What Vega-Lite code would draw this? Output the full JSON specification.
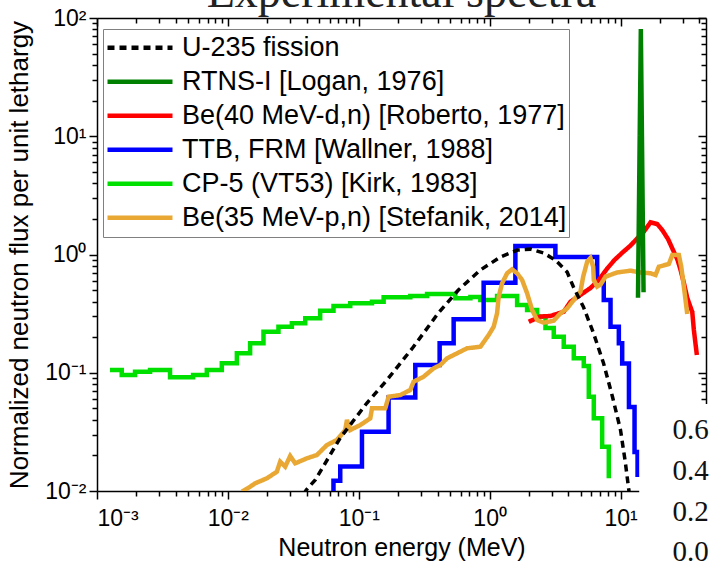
{
  "$schema": "https://vega.github.io/schema/vega-lite/v6.json",
  "width": 609,
  "height": 473,
  "autosize": {"type": "none"},
  "padding": {"left": 97, "top": 18, "right": 4, "bottom": 75},
  "background": "white",
  "title": {"text": "Experimental spectra", "font": "Liberation Serif", "fontSize": 46, "fontWeight": "normal", "color": "#222222", "anchor": "middle", "frame": "group", "baseline": "alphabetic", "offset": -46},
  "config": {
    "view": {"stroke": null},
    "axis": {"grid": false, "domainColor": "black", "tickColor": "black", "labelColor": "black", "titleColor": "black", "labelFont": "Liberation Sans", "titleFont": "Liberation Sans", "labelFontSize": 23, "titleFontSize": 25, "titleFontWeight": "normal", "domainWidth": 1.5, "tickWidth": 1.5},
    "legend": {"orient": "none", "legendX": 6, "legendY": 11, "strokeColor": "#808080", "strokeWidth": 1, "fillColor": "white", "padding": 2, "labelFont": "Liberation Sans", "labelFontSize": 27, "labelColor": "black", "labelLimit": 600, "symbolType": "stroke", "symbolSize": 4225, "symbolStrokeWidth": 4.5, "clipHeight": 33.6, "rowPadding": 0, "labelOffset": 7, "symbolOffset": 0}
  },
  "datasets": {
    "spectra": [
      {"series": "U-235 fission", "E": 0.038, "F": 0.0094},
      {"series": "U-235 fission", "E": 0.0397, "F": 0.0102},
      {"series": "U-235 fission", "E": 0.0465, "F": 0.0124},
      {"series": "U-235 fission", "E": 0.0722, "F": 0.0281},
      {"series": "U-235 fission", "E": 0.1155, "F": 0.0555},
      {"series": "U-235 fission", "E": 0.1644, "F": 0.0869},
      {"series": "U-235 fission", "E": 0.261, "F": 0.165},
      {"series": "U-235 fission", "E": 0.4055, "F": 0.32},
      {"series": "U-235 fission", "E": 0.577, "F": 0.501},
      {"series": "U-235 fission", "E": 0.849, "F": 0.739},
      {"series": "U-235 fission", "E": 1.21, "F": 0.953},
      {"series": "U-235 fission", "E": 1.63, "F": 1.09},
      {"series": "U-235 fission", "E": 2.05, "F": 1.11},
      {"series": "U-235 fission", "E": 2.58, "F": 1.03},
      {"series": "U-235 fission", "E": 3.18, "F": 0.898},
      {"series": "U-235 fission", "E": 3.91, "F": 0.711},
      {"series": "U-235 fission", "E": 4.37, "F": 0.531},
      {"series": "U-235 fission", "E": 5.21, "F": 0.36},
      {"series": "U-235 fission", "E": 6.21, "F": 0.217},
      {"series": "U-235 fission", "E": 7.41, "F": 0.121},
      {"series": "U-235 fission", "E": 8.69, "F": 0.0624},
      {"series": "U-235 fission", "E": 10.0, "F": 0.0328},
      {"series": "U-235 fission", "E": 10.9, "F": 0.0173},
      {"series": "U-235 fission", "E": 11.57, "F": 0.0102},
      {"series": "U-235 fission", "E": 11.75, "F": 0.0094},

      {"series": "RTNS-I [Logan, 1976]", "E": 13.6, "F": 0.43},
      {"series": "RTNS-I [Logan, 1976]", "E": 14.3, "F": 80.7},
      {"series": "RTNS-I [Logan, 1976]", "E": 15.0, "F": 0.48},

      {"series": "Be(40 MeV-d,n) [Roberto, 1977]", "E": 1.99, "F": 0.27},
      {"series": "Be(40 MeV-d,n) [Roberto, 1977]", "E": 2.44, "F": 0.299},
      {"series": "Be(40 MeV-d,n) [Roberto, 1977]", "E": 2.91, "F": 0.302},
      {"series": "Be(40 MeV-d,n) [Roberto, 1977]", "E": 3.68, "F": 0.328},
      {"series": "Be(40 MeV-d,n) [Roberto, 1977]", "E": 4.15, "F": 0.399},
      {"series": "Be(40 MeV-d,n) [Roberto, 1977]", "E": 4.94, "F": 0.455},
      {"series": "Be(40 MeV-d,n) [Roberto, 1977]", "E": 5.9, "F": 0.521},
      {"series": "Be(40 MeV-d,n) [Roberto, 1977]", "E": 6.82, "F": 0.609},
      {"series": "Be(40 MeV-d,n) [Roberto, 1977]", "E": 7.91, "F": 0.761},
      {"series": "Be(40 MeV-d,n) [Roberto, 1977]", "E": 9.0, "F": 0.899},
      {"series": "Be(40 MeV-d,n) [Roberto, 1977]", "E": 10.36, "F": 1.04},
      {"series": "Be(40 MeV-d,n) [Roberto, 1977]", "E": 11.93, "F": 1.19},
      {"series": "Be(40 MeV-d,n) [Roberto, 1977]", "E": 13.42, "F": 1.37},
      {"series": "Be(40 MeV-d,n) [Roberto, 1977]", "E": 15.07, "F": 1.56},
      {"series": "Be(40 MeV-d,n) [Roberto, 1977]", "E": 16.96, "F": 1.87},
      {"series": "Be(40 MeV-d,n) [Roberto, 1977]", "E": 19.08, "F": 1.81},
      {"series": "Be(40 MeV-d,n) [Roberto, 1977]", "E": 20.84, "F": 1.61},
      {"series": "Be(40 MeV-d,n) [Roberto, 1977]", "E": 23.08, "F": 1.35},
      {"series": "Be(40 MeV-d,n) [Roberto, 1977]", "E": 25.2, "F": 1.09},
      {"series": "Be(40 MeV-d,n) [Roberto, 1977]", "E": 27.29, "F": 0.899},
      {"series": "Be(40 MeV-d,n) [Roberto, 1977]", "E": 28.77, "F": 0.74},
      {"series": "Be(40 MeV-d,n) [Roberto, 1977]", "E": 30.49, "F": 0.574},
      {"series": "Be(40 MeV-d,n) [Roberto, 1977]", "E": 32.36, "F": 0.429},
      {"series": "Be(40 MeV-d,n) [Roberto, 1977]", "E": 35.34, "F": 0.326},
      {"series": "Be(40 MeV-d,n) [Roberto, 1977]", "E": 36.35, "F": 0.23},
      {"series": "Be(40 MeV-d,n) [Roberto, 1977]", "E": 38.32, "F": 0.141},

      {"series": "TTB, FRM [Wallner, 1988]", "E": 0.0508, "F": 0.0084},
      {"series": "TTB, FRM [Wallner, 1988]", "E": 0.0641, "F": 0.0122},
      {"series": "TTB, FRM [Wallner, 1988]", "E": 0.0722, "F": 0.0161},
      {"series": "TTB, FRM [Wallner, 1988]", "E": 0.1058, "F": 0.0317},
      {"series": "TTB, FRM [Wallner, 1988]", "E": 0.169, "F": 0.0619},
      {"series": "TTB, FRM [Wallner, 1988]", "E": 0.2704, "F": 0.1164},
      {"series": "TTB, FRM [Wallner, 1988]", "E": 0.415, "F": 0.1774},
      {"series": "TTB, FRM [Wallner, 1988]", "E": 0.531, "F": 0.283},
      {"series": "TTB, FRM [Wallner, 1988]", "E": 0.9, "F": 0.578},
      {"series": "TTB, FRM [Wallner, 1988]", "E": 1.573, "F": 1.18},
      {"series": "TTB, FRM [Wallner, 1988]", "E": 3.18, "F": 0.953},
      {"series": "TTB, FRM [Wallner, 1988]", "E": 6.63, "F": 0.629},
      {"series": "TTB, FRM [Wallner, 1988]", "E": 7.45, "F": 0.413},
      {"series": "TTB, FRM [Wallner, 1988]", "E": 8.39, "F": 0.245},
      {"series": "TTB, FRM [Wallner, 1988]", "E": 9.71, "F": 0.1774},
      {"series": "TTB, FRM [Wallner, 1988]", "E": 10.3, "F": 0.12},
      {"series": "TTB, FRM [Wallner, 1988]", "E": 11.6, "F": 0.0513},
      {"series": "TTB, FRM [Wallner, 1988]", "E": 12.8, "F": 0.0214},
      {"series": "TTB, FRM [Wallner, 1988]", "E": 13.5, "F": 0.0137},
      {"series": "TTB, FRM [Wallner, 1988]", "E": 15.5, "F": 0.0137},

      {"series": "CP-5 (VT53) [Kirk, 1983]", "E": 0.001257, "F": 0.1055},
      {"series": "CP-5 (VT53) [Kirk, 1983]", "E": 0.001545, "F": 0.0957},
      {"series": "CP-5 (VT53) [Kirk, 1983]", "E": 0.001953, "F": 0.1021},
      {"series": "CP-5 (VT53) [Kirk, 1983]", "E": 0.002543, "F": 0.1055},
      {"series": "CP-5 (VT53) [Kirk, 1983]", "E": 0.003615, "F": 0.0915},
      {"series": "CP-5 (VT53) [Kirk, 1983]", "E": 0.005423, "F": 0.0957},
      {"series": "CP-5 (VT53) [Kirk, 1983]", "E": 0.006902, "F": 0.1055},
      {"series": "CP-5 (VT53) [Kirk, 1983]", "E": 0.008989, "F": 0.1202},
      {"series": "CP-5 (VT53) [Kirk, 1983]", "E": 0.01171, "F": 0.146},
      {"series": "CP-5 (VT53) [Kirk, 1983]", "E": 0.01479, "F": 0.1774},
      {"series": "CP-5 (VT53) [Kirk, 1983]", "E": 0.01871, "F": 0.2223},
      {"series": "CP-5 (VT53) [Kirk, 1983]", "E": 0.02435, "F": 0.2451},
      {"series": "CP-5 (VT53) [Kirk, 1983]", "E": 0.03083, "F": 0.2619},
      {"series": "CP-5 (VT53) [Kirk, 1983]", "E": 0.039, "F": 0.2886},
      {"series": "CP-5 (VT53) [Kirk, 1983]", "E": 0.05074, "F": 0.3347},
      {"series": "CP-5 (VT53) [Kirk, 1983]", "E": 0.06412, "F": 0.3668},
      {"series": "CP-5 (VT53) [Kirk, 1983]", "E": 0.0861, "F": 0.3866},
      {"series": "CP-5 (VT53) [Kirk, 1983]", "E": 0.1262, "F": 0.399},
      {"series": "CP-5 (VT53) [Kirk, 1983]", "E": 0.1549, "F": 0.4345},
      {"series": "CP-5 (VT53) [Kirk, 1983]", "E": 0.2477, "F": 0.4457},
      {"series": "CP-5 (VT53) [Kirk, 1983]", "E": 0.3327, "F": 0.4634},
      {"series": "CP-5 (VT53) [Kirk, 1983]", "E": 0.547, "F": 0.4262},
      {"series": "CP-5 (VT53) [Kirk, 1983]", "E": 0.713, "F": 0.4372},
      {"series": "CP-5 (VT53) [Kirk, 1983]", "E": 0.849, "F": 0.4125},
      {"series": "CP-5 (VT53) [Kirk, 1983]", "E": 1.14, "F": 0.4457},
      {"series": "CP-5 (VT53) [Kirk, 1983]", "E": 1.622, "F": 0.374},
      {"series": "CP-5 (VT53) [Kirk, 1983]", "E": 1.933, "F": 0.3394},
      {"series": "CP-5 (VT53) [Kirk, 1983]", "E": 2.306, "F": 0.2978},
      {"series": "CP-5 (VT53) [Kirk, 1983]", "E": 2.67, "F": 0.2389},
      {"series": "CP-5 (VT53) [Kirk, 1983]", "E": 3.09, "F": 0.2018},
      {"series": "CP-5 (VT53) [Kirk, 1983]", "E": 3.683, "F": 0.166},
      {"series": "CP-5 (VT53) [Kirk, 1983]", "E": 4.395, "F": 0.1324},
      {"series": "CP-5 (VT53) [Kirk, 1983]", "E": 5.239, "F": 0.114},
      {"series": "CP-5 (VT53) [Kirk, 1983]", "E": 5.723, "F": 0.0627},
      {"series": "CP-5 (VT53) [Kirk, 1983]", "E": 6.25, "F": 0.0412},
      {"series": "CP-5 (VT53) [Kirk, 1983]", "E": 7.244, "F": 0.0237},
      {"series": "CP-5 (VT53) [Kirk, 1983]", "E": 8.137, "F": 0.0128},

      {"series": "Be(35 MeV-p,n) [Stefanik, 2014]", "E": 0.01279, "F": 0.00986},
      {"series": "Be(35 MeV-p,n) [Stefanik, 2014]", "E": 0.01479, "F": 0.01087},
      {"series": "Be(35 MeV-p,n) [Stefanik, 2014]", "E": 0.01616, "F": 0.01161},
      {"series": "Be(35 MeV-p,n) [Stefanik, 2014]", "E": 0.01986, "F": 0.0128},
      {"series": "Be(35 MeV-p,n) [Stefanik, 2014]", "E": 0.02367, "F": 0.01456},
      {"series": "Be(35 MeV-p,n) [Stefanik, 2014]", "E": 0.0251, "F": 0.0177},
      {"series": "Be(35 MeV-p,n) [Stefanik, 2014]", "E": 0.02741, "F": 0.01605},
      {"series": "Be(35 MeV-p,n) [Stefanik, 2014]", "E": 0.02993, "F": 0.01977},
      {"series": "Be(35 MeV-p,n) [Stefanik, 2014]", "E": 0.03267, "F": 0.01714},
      {"series": "Be(35 MeV-p,n) [Stefanik, 2014]", "E": 0.04018, "F": 0.0189},
      {"series": "Be(35 MeV-p,n) [Stefanik, 2014]", "E": 0.04789, "F": 0.02015},
      {"series": "Be(35 MeV-p,n) [Stefanik, 2014]", "E": 0.05712, "F": 0.02449},
      {"series": "Be(35 MeV-p,n) [Stefanik, 2014]", "E": 0.06812, "F": 0.027},
      {"series": "Be(35 MeV-p,n) [Stefanik, 2014]", "E": 0.07883, "F": 0.0328},
      {"series": "Be(35 MeV-p,n) [Stefanik, 2014]", "E": 0.08122, "F": 0.0399},
      {"series": "Be(35 MeV-p,n) [Stefanik, 2014]", "E": 0.0861, "F": 0.0328},
      {"series": "Be(35 MeV-p,n) [Stefanik, 2014]", "E": 0.1027, "F": 0.0361},
      {"series": "Be(35 MeV-p,n) [Stefanik, 2014]", "E": 0.1225, "F": 0.0412},
      {"series": "Be(35 MeV-p,n) [Stefanik, 2014]", "E": 0.1262, "F": 0.05},
      {"series": "Be(35 MeV-p,n) [Stefanik, 2014]", "E": 0.1595, "F": 0.05},
      {"series": "Be(35 MeV-p,n) [Stefanik, 2014]", "E": 0.169, "F": 0.0627},
      {"series": "Be(35 MeV-p,n) [Stefanik, 2014]", "E": 0.2077, "F": 0.0648},
      {"series": "Be(35 MeV-p,n) [Stefanik, 2014]", "E": 0.2476, "F": 0.0715},
      {"series": "Be(35 MeV-p,n) [Stefanik, 2014]", "E": 0.2625, "F": 0.084},
      {"series": "Be(35 MeV-p,n) [Stefanik, 2014]", "E": 0.3131, "F": 0.0926},
      {"series": "Be(35 MeV-p,n) [Stefanik, 2014]", "E": 0.3733, "F": 0.109},
      {"series": "Be(35 MeV-p,n) [Stefanik, 2014]", "E": 0.4201, "F": 0.1164},
      {"series": "Be(35 MeV-p,n) [Stefanik, 2014]", "E": 0.4726, "F": 0.1324},
      {"series": "Be(35 MeV-p,n) [Stefanik, 2014]", "E": 0.6723, "F": 0.161},
      {"series": "Be(35 MeV-p,n) [Stefanik, 2014]", "E": 0.85, "F": 0.166},
      {"series": "Be(35 MeV-p,n) [Stefanik, 2014]", "E": 0.9833, "F": 0.2084},
      {"series": "Be(35 MeV-p,n) [Stefanik, 2014]", "E": 1.074, "F": 0.2451},
      {"series": "Be(35 MeV-p,n) [Stefanik, 2014]", "E": 1.14, "F": 0.318},
      {"series": "Be(35 MeV-p,n) [Stefanik, 2014]", "E": 1.173, "F": 0.4395},
      {"series": "Be(35 MeV-p,n) [Stefanik, 2014]", "E": 1.245, "F": 0.5706},
      {"series": "Be(35 MeV-p,n) [Stefanik, 2014]", "E": 1.36, "F": 0.6935},
      {"series": "Be(35 MeV-p,n) [Stefanik, 2014]", "E": 1.485, "F": 0.7492},
      {"series": "Be(35 MeV-p,n) [Stefanik, 2014]", "E": 1.621, "F": 0.6935},
      {"series": "Be(35 MeV-p,n) [Stefanik, 2014]", "E": 1.771, "F": 0.6088},
      {"series": "Be(35 MeV-p,n) [Stefanik, 2014]", "E": 1.934, "F": 0.4699},
      {"series": "Be(35 MeV-p,n) [Stefanik, 2014]", "E": 2.112, "F": 0.3396},
      {"series": "Be(35 MeV-p,n) [Stefanik, 2014]", "E": 2.306, "F": 0.2793},
      {"series": "Be(35 MeV-p,n) [Stefanik, 2014]", "E": 2.591, "F": 0.2651},
      {"series": "Be(35 MeV-p,n) [Stefanik, 2014]", "E": 3.09, "F": 0.2755},
      {"series": "Be(35 MeV-p,n) [Stefanik, 2014]", "E": 3.476, "F": 0.318},
      {"series": "Be(35 MeV-p,n) [Stefanik, 2014]", "E": 3.912, "F": 0.3507},
      {"series": "Be(35 MeV-p,n) [Stefanik, 2014]", "E": 4.394, "F": 0.4123},
      {"series": "Be(35 MeV-p,n) [Stefanik, 2014]", "E": 4.943, "F": 0.4846},
      {"series": "Be(35 MeV-p,n) [Stefanik, 2014]", "E": 5.184, "F": 0.6491},
      {"series": "Be(35 MeV-p,n) [Stefanik, 2014]", "E": 5.564, "F": 0.8693},
      {"series": "Be(35 MeV-p,n) [Stefanik, 2014]", "E": 5.896, "F": 0.934},
      {"series": "Be(35 MeV-p,n) [Stefanik, 2014]", "E": 6.183, "F": 0.7885},
      {"series": "Be(35 MeV-p,n) [Stefanik, 2014]", "E": 6.249, "F": 0.6088},
      {"series": "Be(35 MeV-p,n) [Stefanik, 2014]", "E": 6.635, "F": 0.5346},
      {"series": "Be(35 MeV-p,n) [Stefanik, 2014]", "E": 7.031, "F": 0.5548},
      {"series": "Be(35 MeV-p,n) [Stefanik, 2014]", "E": 7.678, "F": 0.6491},
      {"series": "Be(35 MeV-p,n) [Stefanik, 2014]", "E": 9.437, "F": 0.7052},
      {"series": "Be(35 MeV-p,n) [Stefanik, 2014]", "E": 11.93, "F": 0.7295},
      {"series": "Be(35 MeV-p,n) [Stefanik, 2014]", "E": 14.22, "F": 0.7052},
      {"series": "Be(35 MeV-p,n) [Stefanik, 2014]", "E": 16.96, "F": 0.6935},
      {"series": "Be(35 MeV-p,n) [Stefanik, 2014]", "E": 18.52, "F": 0.671},
      {"series": "Be(35 MeV-p,n) [Stefanik, 2014]", "E": 19.63, "F": 0.7885},
      {"series": "Be(35 MeV-p,n) [Stefanik, 2014]", "E": 23.41, "F": 0.8312},
      {"series": "Be(35 MeV-p,n) [Stefanik, 2014]", "E": 24.86, "F": 0.9904},
      {"series": "Be(35 MeV-p,n) [Stefanik, 2014]", "E": 27.92, "F": 0.9904},
      {"series": "Be(35 MeV-p,n) [Stefanik, 2014]", "E": 29.12, "F": 0.7885},
      {"series": "Be(35 MeV-p,n) [Stefanik, 2014]", "E": 30.49, "F": 0.5346},
      {"series": "Be(35 MeV-p,n) [Stefanik, 2014]", "E": 32.36, "F": 0.3139}
    ],
    "overlay": [
      {"E1": 13.9, "E2": 100, "F1": 0.0545, "F2": 0.001}
    ],
    "overlayText": [
      {"label": "0.6", "E": 25.0, "F": 0.0325},
      {"label": "0.4", "E": 25.0, "F": 0.0148},
      {"label": "0.2", "E": 25.0, "F": 0.00665},
      {"label": "0.0", "E": 25.0, "F": 0.00305}
    ]
  },
  "data": {"name": "spectra"},
  "layer": [
    {
      "transform": [{"filter": {"field": "series", "equal": "CP-5 (VT53) [Kirk, 1983]"}}],
      "mark": {"type": "line", "interpolate": "step-after", "strokeWidth": 4.5, "clip": true},
      "encoding": {
        "x": {"field": "E", "type": "quantitative", "scale": {"type": "log", "domain": [0.001, 45], "nice": false},
              "axis": {"orient": "bottom", "values": [0.001, 0.01, 0.1, 1, 10], "labelExpr": "['10⁻³','10⁻²','10⁻¹','10⁰','10¹','10²'][round(log(datum.value)/LN10)+3]", "tickSize": 8, "labelPadding": 8, "domain": true, "title": "Neutron energy (MeV)", "titlePadding": 5}},
        "y": {"field": "F", "type": "quantitative", "scale": {"type": "log", "domain": [0.01, 100], "nice": false},
              "axis": {"orient": "left", "values": [0.01, 0.1, 1, 10, 100], "labelExpr": "['10⁻³','10⁻²','10⁻¹','10⁰','10¹','10²'][round(log(datum.value)/LN10)+3]", "tickSize": 8, "labelPadding": 3, "domain": true, "title": "Normalized neutron flux per unit lethargy", "titleFontSize": 26, "titlePadding": 12}},
        "color": {"field": "series", "type": "nominal", "title": null, "scale": {"domain": ["U-235 fission", "RTNS-I [Logan, 1976]", "Be(40 MeV-d,n) [Roberto, 1977]", "TTB, FRM [Wallner, 1988]", "CP-5 (VT53) [Kirk, 1983]", "Be(35 MeV-p,n) [Stefanik, 2014]"], "range": ["#000000", "#008000", "#ff0000", "#0000ff", "#00e000", "#e8a833"]}},
        "strokeDash": {"field": "series", "type": "nominal", "title": null, "scale": {"domain": ["U-235 fission", "RTNS-I [Logan, 1976]", "Be(40 MeV-d,n) [Roberto, 1977]", "TTB, FRM [Wallner, 1988]", "CP-5 (VT53) [Kirk, 1983]", "Be(35 MeV-p,n) [Stefanik, 2014]"], "range": [[7, 5], [1, 0], [1, 0], [1, 0], [1, 0], [1, 0]]}}
      }
    },
    {
      "transform": [{"filter": {"field": "series", "equal": "TTB, FRM [Wallner, 1988]"}}],
      "mark": {"type": "line", "interpolate": "step-after", "strokeWidth": 4.5, "clip": true},
      "encoding": {
        "x": {"field": "E", "type": "quantitative", "scale": {"type": "log", "domain": [0.001, 45], "nice": false},
              "axis": {"orient": "bottom", "values": [0.002,0.003,0.004,0.005,0.006,0.007,0.008,0.009,0.02,0.03,0.04,0.05,0.06,0.07,0.08,0.09,0.2,0.3,0.4,0.5,0.6,0.7,0.8,0.9,2,3,4,5,6,7,8,9,20,30,40], "labels": false, "tickSize": 5, "domain": false, "title": null}},
        "y": {"field": "F", "type": "quantitative", "scale": {"type": "log", "domain": [0.01, 100], "nice": false},
              "axis": {"orient": "left", "values": [0.02,0.03,0.04,0.05,0.06,0.07,0.08,0.09,0.2,0.3,0.4,0.5,0.6,0.7,0.8,0.9,2,3,4,5,6,7,8,9,20,30,40,50,60,70,80,90], "labels": false, "tickSize": 5, "domain": false, "title": null}},
        "color": {"field": "series", "type": "nominal", "title": null},
        "strokeDash": {"field": "series", "type": "nominal", "title": null}
      }
    },
    {
      "transform": [{"filter": {"field": "series", "equal": "Be(40 MeV-d,n) [Roberto, 1977]"}}],
      "mark": {"type": "line", "strokeWidth": 4.5, "clip": true},
      "encoding": {
        "x": {"field": "E", "type": "quantitative", "scale": {"type": "log", "domain": [0.001, 45], "nice": false},
              "axis": {"orient": "top", "values": [0.001, 0.01, 0.1, 1, 10], "labels": false, "tickSize": -8, "domain": true, "title": null}},
        "y": {"field": "F", "type": "quantitative", "scale": {"type": "log", "domain": [0.01, 100], "nice": false},
              "axis": {"orient": "right", "values": [0.01, 0.1, 1, 10, 100], "labels": false, "tickSize": -8, "domain": true, "title": null}},
        "color": {"field": "series", "type": "nominal", "title": null},
        "strokeDash": {"field": "series", "type": "nominal", "title": null}
      }
    },
    {
      "transform": [{"filter": {"field": "series", "equal": "Be(35 MeV-p,n) [Stefanik, 2014]"}}],
      "mark": {"type": "line", "strokeWidth": 4.5, "clip": true},
      "encoding": {
        "x": {"field": "E", "type": "quantitative", "scale": {"type": "log", "domain": [0.001, 45], "nice": false},
              "axis": {"orient": "top", "values": [0.002,0.003,0.004,0.005,0.006,0.007,0.008,0.009,0.02,0.03,0.04,0.05,0.06,0.07,0.08,0.09,0.2,0.3,0.4,0.5,0.6,0.7,0.8,0.9,2,3,4,5,6,7,8,9,20,30,40], "labels": false, "tickSize": -5, "domain": false, "title": null}},
        "y": {"field": "F", "type": "quantitative", "scale": {"type": "log", "domain": [0.01, 100], "nice": false},
              "axis": {"orient": "right", "values": [0.02,0.03,0.04,0.05,0.06,0.07,0.08,0.09,0.2,0.3,0.4,0.5,0.6,0.7,0.8,0.9,2,3,4,5,6,7,8,9,20,30,40,50,60,70,80,90], "labels": false, "tickSize": -5, "domain": false, "title": null}},
        "color": {"field": "series", "type": "nominal", "title": null},
        "strokeDash": {"field": "series", "type": "nominal", "title": null}
      }
    },
    {
      "transform": [{"filter": {"field": "series", "equal": "RTNS-I [Logan, 1976]"}}],
      "mark": {"type": "line", "strokeWidth": 4.5, "clip": true},
      "encoding": {
        "x": {"field": "E", "type": "quantitative", "scale": {"type": "log", "domain": [0.001, 45], "nice": false}, "axis": null},
        "y": {"field": "F", "type": "quantitative", "scale": {"type": "log", "domain": [0.01, 100], "nice": false}, "axis": null},
        "color": {"field": "series", "type": "nominal", "title": null},
        "strokeDash": {"field": "series", "type": "nominal", "title": null}
      }
    },
    {
      "transform": [{"filter": {"field": "series", "equal": "U-235 fission"}}],
      "mark": {"type": "line", "strokeWidth": 3.5, "clip": true},
      "encoding": {
        "x": {"field": "E", "type": "quantitative", "scale": {"type": "log", "domain": [0.001, 45], "nice": false}, "axis": null},
        "y": {"field": "F", "type": "quantitative", "scale": {"type": "log", "domain": [0.01, 100], "nice": false}, "axis": null},
        "color": {"field": "series", "type": "nominal", "title": null},
        "strokeDash": {"field": "series", "type": "nominal", "title": null}
      }
    },
    {
      "data": {"name": "overlay"},
      "mark": {"type": "rect", "fill": "white", "clip": false},
      "encoding": {
        "x": {"field": "E1", "type": "quantitative", "scale": {"type": "log", "domain": [0.001, 45], "nice": false}, "axis": null},
        "x2": {"field": "E2"},
        "y": {"field": "F1", "type": "quantitative", "scale": {"type": "log", "domain": [0.01, 100], "nice": false}, "axis": null},
        "y2": {"field": "F2"}
      }
    },
    {
      "data": {"name": "overlayText"},
      "mark": {"type": "text", "font": "Liberation Serif", "fontSize": 29, "align": "left", "baseline": "middle", "color": "#111111", "clip": false},
      "encoding": {
        "x": {"field": "E", "type": "quantitative", "scale": {"type": "log", "domain": [0.001, 45], "nice": false}, "axis": null},
        "y": {"field": "F", "type": "quantitative", "scale": {"type": "log", "domain": [0.01, 100], "nice": false}, "axis": null},
        "text": {"field": "label"}
      }
    }
  ],
  "resolve": {"axis": {"x": "independent", "y": "independent"}}
}
